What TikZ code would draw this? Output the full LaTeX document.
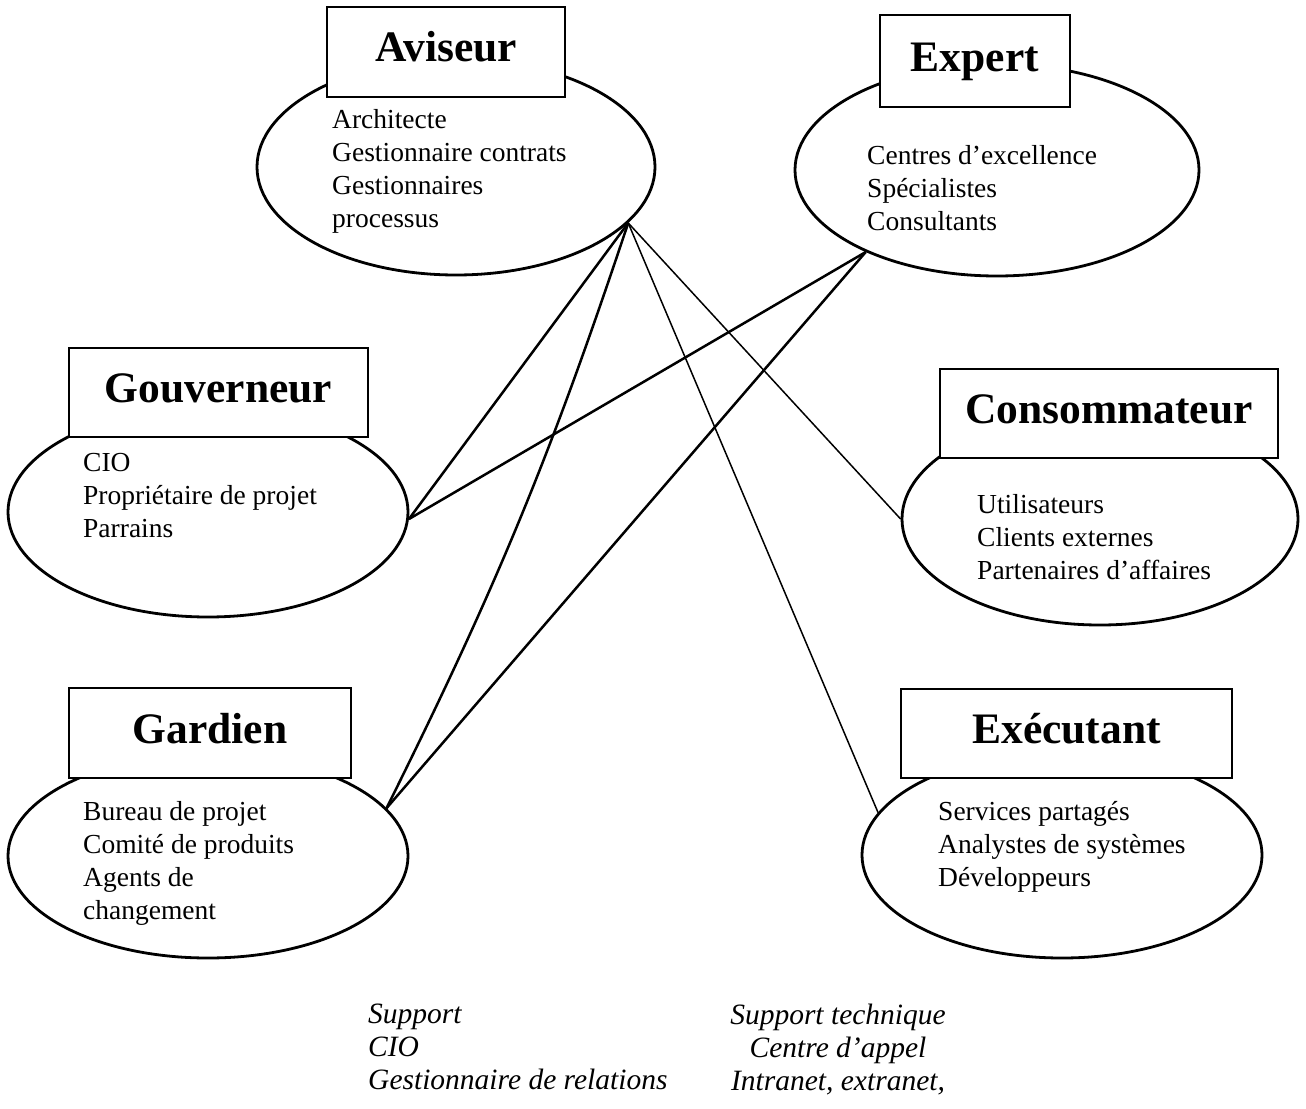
\documentclass[tikz,border=0pt]{standalone}
\usepackage{fontspec}
\setmainfont{Liberation Serif}
\usetikzlibrary{positioning,shapes.geometric}

\begin{document}
\begin{tikzpicture}[x=1pt,y=-1pt,
        role/.style={ellipse,draw,line width=2.8pt,inner sep=0pt},
        title/.style={draw,fill=white,line width=2.8pt,inner sep=0pt,
                      text height=30pt,text depth=10pt,
                      font=\fontsize{43.5}{50}\selectfont\bfseries},
        members/.style={anchor=north west,align=left,inner sep=0pt,
                        font=\fontsize{27.5}{33}\selectfont},
        aside/.style={anchor=north,inner sep=0pt,
                      font=\fontsize{29.5}{33}\selectfont\itshape},
        link/.style={line width=2.5pt},
        weak/.style={line width=1.5pt}]
  \useasboundingbox (0,0) rectangle (1306,1108);

  \node[role,minimum width=398pt,minimum height=216pt] (a) at (456,167) {};
  \node[role,minimum width=404pt,minimum height=212pt] (e) at (997,170) {};
  \node[role,minimum width=400pt,minimum height=210pt] (g) at (208,512) {};
  \node[role,minimum width=396pt,minimum height=212pt] (c) at (1100,519) {};
  \node[role,minimum width=400pt,minimum height=204pt] (d) at (208,856) {};
  \node[role,minimum width=400pt,minimum height=206pt] (x) at (1062,855) {};

  \node[title,minimum width=238pt,minimum height=90pt] (ta) at (446,52) {Aviseur};
  \node[title,minimum width=190pt,minimum height=92pt] (te) at (975,61) {Expert};
  \node[title,minimum width=299pt,minimum height=89pt] (tg) at (218.5,392.5) {Gouverneur};
  \node[title,minimum width=338pt,minimum height=89pt] (tc) at (1109,413.5) {Consommateur};
  \node[title,minimum width=282pt,minimum height=90pt] (td) at (210,733) {Gardien};
  \node[title,minimum width=331pt,minimum height=89pt] (tx) at (1066.5,733.5) {Exécutant};

  \node[members] (la) at (332,109) {Architecte\\Gestionnaire contrats\\Gestionnaires\\processus};
  \node[members] (le) at (867,145) {Centres d’excellence\\Spécialistes\\Consultants};
  \node[members] (lg) at (83,453) {CIO\\Propriétaire de projet\\Parrains};
  \node[members] (lc) at (977,494) {Utilisateurs\\Clients externes\\Partenaires d’affaires};
  \node[members] (ld) at (83,801) {Bureau de projet\\Comité de produits\\Agents de\\changement};
  \node[members] (lx) at (938,801) {Services partagés\\Analystes de systèmes\\Développeurs};

  \node[aside,anchor=north west,align=left] (sl) at (368,1004)
        {Support\\CIO\\Gestionnaire de relations};
  \node[aside,align=center] (sr) at (838,1004)
        {Support technique\\Centre d’appel\\Intranet, extranet,};

  \path[link] (a.-18)  edge (g.-2)
                       edge [bend left=4] (d.15)
              (e.-148) edge (g.-2)
                       edge (d.15);
  \path[weak] (a.-18)  edge (c.180)
                       edge (x.167);
\end{tikzpicture}
\end{document}
